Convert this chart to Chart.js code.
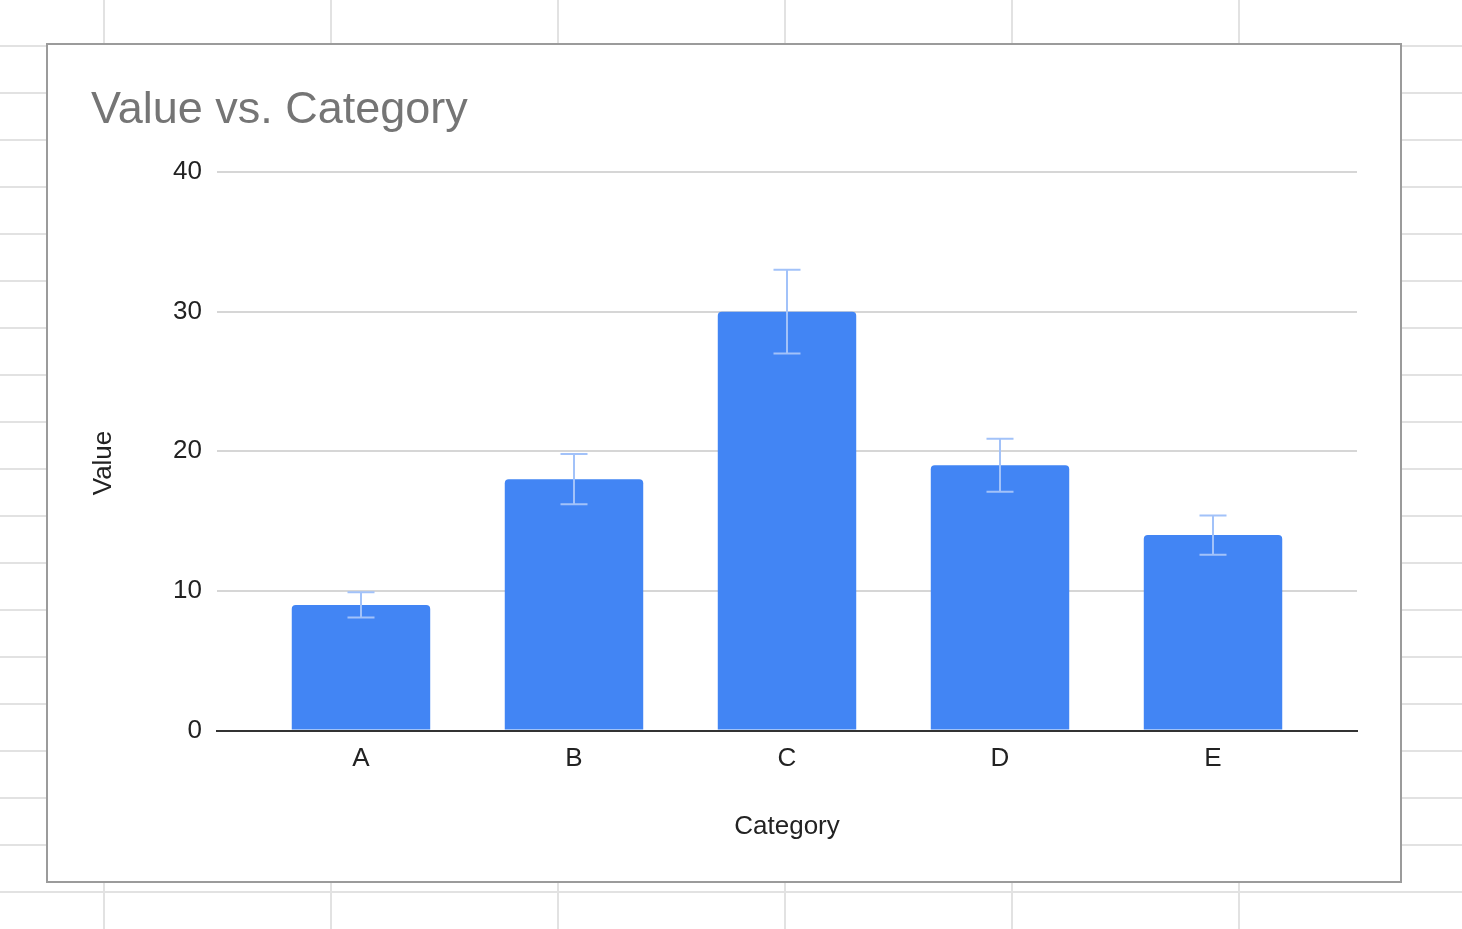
<!DOCTYPE html>
<html>
<head>
<meta charset="utf-8">
<title>Value vs. Category</title>
<script src="https://cdn.jsdelivr.net/npm/chart.js@4.4.1/dist/chart.umd.min.js"></script>
<style>
  html, body { margin: 0; padding: 0; }
  body {
    width: 1462px;
    height: 929px;
    overflow: hidden;
    background-color: #fff;
    /* spreadsheet cells behind the chart */
    background-image:
      linear-gradient(to right, #e2e2e2 2px, transparent 2px),
      linear-gradient(to bottom, #e2e2e2 2px, transparent 2px);
    background-size: 227px 100%, 100% 47px;
    background-position: 103px 0, 0 45px;
  }
  #chart-box {
    position: absolute;
    left: 46px;
    top: 43px;
    width: 1352px;
    height: 836px;
    border: 2px solid #9b9b9b;
    background: #fff;
  }
  #chart-box canvas { display: block; }
</style>
</head>
<body>
<div id="chart-box">
  <canvas id="value-chart" width="1352" height="836"></canvas>
</div>

<script>
// --- Data ---
const categories = ['A', 'B', 'C', 'D', 'E'];
const values = [9, 18, 30, 19, 14];
const errors = [0.9, 1.8, 3.0, 1.9, 1.4]; // +/- amount of each error bar
const yTicks = [0, 10, 20, 30, 40];

const FONT_FAMILY = 'Arial, "Liberation Sans", sans-serif';
const AXIS_FONT = { family: FONT_FAMILY, size: 26 };
const TEXT_COLOR = '#222';

// Draws the I-shaped error bars on top of the bars, using the chart's own scales
const errorBarPlugin = {
    id: 'errorBars',
    afterDatasetsDraw(chart) {
        const { ctx, scales: { y } } = chart;
        const meta = chart.getDatasetMeta(0);
        const capHalf = 13.5;
        ctx.save();
        ctx.strokeStyle = '#a2c2f9';
        ctx.lineWidth = 2;
        meta.data.forEach((bar, i) => {
            const x = Math.round(bar.x);
            const top = y.getPixelForValue(values[i] + errors[i]);
            const bottom = y.getPixelForValue(values[i] - errors[i]);
            ctx.beginPath();
            ctx.moveTo(x, top);
            ctx.lineTo(x, bottom);
            ctx.moveTo(x - capHalf, top);
            ctx.lineTo(x + capHalf, top);
            ctx.moveTo(x - capHalf, bottom);
            ctx.lineTo(x + capHalf, bottom);
            ctx.stroke();
        });
        ctx.restore();
    }
};

// Vertical "Value" label, centred on the whole chart box like in Sheets
const yTitlePlugin = {
    id: 'yTitle',
    afterDraw(chart) {
        const { ctx } = chart;
        ctx.save();
        ctx.translate(56, chart.height / 2);
        ctx.rotate(-Math.PI / 2);
        ctx.fillStyle = TEXT_COLOR;
        ctx.font = `26px ${FONT_FAMILY}`;
        ctx.textAlign = 'center';
        ctx.textBaseline = 'middle';
        ctx.fillText('Value', 0, 0);
        ctx.restore();
    }
};

const ctx = document.getElementById('value-chart').getContext('2d');
new Chart(ctx, {
    type: 'bar',
    data: {
        datasets: [{
            label: 'Value',
            data: values.map((v, i) => ({ x: i, y: v })),
            backgroundColor: '#4285f4',
            borderRadius: 4,
            borderSkipped: 'start',
            barPercentage: 0.65,
            categoryPercentage: 1.0
        }]
    },
    options: {
        responsive: false,
        animation: false,
        devicePixelRatio: 1,
        layout: { padding: { left: 43, right: 43, top: 10, bottom: 39 } },
        plugins: {
            legend: { display: false },
            tooltip: { enabled: false },
            title: {
                display: true,
                text: 'Value vs. Category',
                align: 'start',
                color: '#757575',
                font: { family: FONT_FAMILY, size: 45, weight: 'normal' },
                padding: { top: 29, bottom: 34 }
            }
        },
        scales: {
            x: {
                type: 'linear',
                offset: false,
                min: -0.676,
                max: categories.length - 1 + 0.676,
                z: 1,
                afterBuildTicks: (scale) => { scale.ticks = categories.map((c, i) => ({ value: i })); },
                grid: { display: false },
                border: { display: true, color: '#333', width: 2 },
                ticks: {
                    color: TEXT_COLOR,
                    font: AXIS_FONT,
                    padding: 5,
                    autoSkip: false,
                    maxRotation: 0,
                    callback: (v) => categories[v]
                },
                title: {
                    display: true,
                    text: 'Category',
                    color: TEXT_COLOR,
                    font: AXIS_FONT,
                    padding: { top: 31, bottom: 0 }
                }
            },
            y: {
                min: yTicks[0],
                max: yTicks[yTicks.length - 1],
                afterBuildTicks: (scale) => { scale.ticks = yTicks.map(v => ({ value: v })); },
                afterFit: (scale) => { scale.width = 126; },
                grid: {
                    drawTicks: false,
                    lineWidth: 2,
                    color: (c) => c.tick && c.tick.value === 0 ? '#333' : '#d6d6d6'
                },
                border: { display: false },
                ticks: { color: TEXT_COLOR, font: AXIS_FONT, padding: 15 }
            }
        }
    },
    plugins: [errorBarPlugin, yTitlePlugin]
});
</script>
</body>
</html>
